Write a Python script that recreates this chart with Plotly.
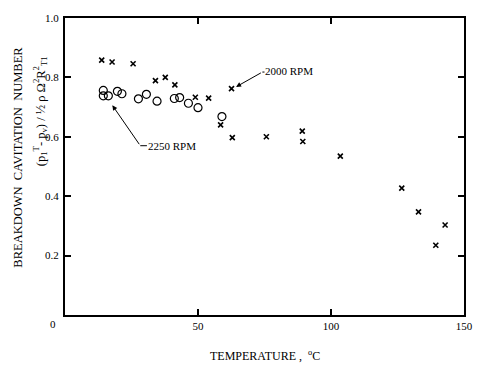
import plotly.graph_objects as go

# 2000 RPM data (x markers)
temp_2000 = [13.8, 17.7, 25.6, 34.0, 37.7, 41.3, 49.0, 54.0, 62.6, 58.5, 62.9, 75.7, 89.2, 89.4, 103.5, 126.6, 132.9, 142.9, 139.4]
sigma_2000 = [0.858, 0.852, 0.846, 0.789, 0.800, 0.775, 0.733, 0.730, 0.762, 0.640, 0.597, 0.600, 0.619, 0.584, 0.535, 0.427, 0.347, 0.303, 0.235]

# 2250 RPM data (open circles)
temp_2250 = [14.4, 14.4, 16.3, 19.7, 21.4, 27.6, 30.6, 34.6, 41.1, 43.1, 46.4, 50.0, 59.0]
sigma_2250 = [0.756, 0.738, 0.738, 0.753, 0.745, 0.728, 0.743, 0.720, 0.729, 0.732, 0.713, 0.698, 0.668]

x_ticks = [0, 50, 100, 150]
x_ticktext = ["", "50", "100", "150"]
y_ticks = [0.2, 0.4, 0.6, 0.8, 1.0]
y_ticktext = ["0.2", "0.4", "0.6", "0.8", "1.0"]

FONT = "Liberation Serif"

fig = go.Figure()
fig.add_trace(go.Scatter(
    x=temp_2000, y=sigma_2000, mode="markers", name="2000 RPM",
    marker=dict(symbol="x-thin-open", size=5, color="black", line=dict(width=1.6, color="black")),
))
fig.add_trace(go.Scatter(
    x=temp_2250, y=sigma_2250, mode="markers", name="2250 RPM",
    marker=dict(symbol="circle-open", size=8, color="black", line=dict(width=1.2, color="black")),
))

axis_common = dict(
    showgrid=False, zeroline=False, showline=True, linecolor="black", linewidth=2,
    mirror="ticks", ticks="inside", ticklen=6, tickwidth=1.5, tickcolor="black",
    tickfont=dict(family=FONT, size=11, color="black"),
)
fig.update_xaxes(range=[0, 150], tickvals=x_ticks, ticktext=x_ticktext, **axis_common)
fig.update_yaxes(range=[0, 1.0], tickvals=y_ticks, ticktext=y_ticktext, ticklabelstandoff=2, **axis_common)

annotations = [
    # x 0 label offset to the left
    dict(x=0, y=0, xref="x", yref="y", text="0", showarrow=False, xshift=-12, yshift=-9,
         yanchor="middle", font=dict(family=FONT, size=11, color="black")),
    # x title
    dict(x=0.5, y=-0.105, xref="paper", yref="paper", xanchor="center", yanchor="top",
         text="TEMPERATURE ,  <sup>o</sup>C", showarrow=False,
         font=dict(family=FONT, size=12, color="black")),
    # y title lines
    dict(x=-0.1176, y=0.53, xref="paper", yref="paper", xanchor="center", yanchor="middle",
         text="BREAKDOWN  CAVITATION  NUMBER", textangle=-90, showarrow=False,
         font=dict(family=FONT, size=12.5, color="black")),
    dict(x=-0.062, y=0.687, xref="paper", yref="paper", xanchor="center", yanchor="middle",
         text="(p<sub>1</sub><sup>T</sup>- p<sub>v</sub>) / ½ ρ Ω<sup>2</sup>R<sup>2</sup><sub>T1</sub>",
         textangle=-90, showarrow=False,
         font=dict(family=FONT, size=12.5, color="black")),
    # arrows
    dict(x=64.3, y=0.768, ax=74.2, ay=0.818, xref="x", yref="y", axref="x", ayref="y",
         text="", showarrow=True, arrowhead=2, arrowsize=1, arrowwidth=1, arrowcolor="black"),
    dict(x=17.8, y=0.706, ax=28.3, ay=0.570, xref="x", yref="y", axref="x", ayref="y",
         text="", showarrow=True, arrowhead=2, arrowsize=1, arrowwidth=1, arrowcolor="black"),
    # labels
    dict(x=74.4, y=0.822, xref="x", yref="y", xanchor="left", yanchor="middle", text="2000 RPM",
         showarrow=False, font=dict(family=FONT, size=11, color="black")),
    dict(x=30.6, y=0.570, xref="x", yref="y", xanchor="left", yanchor="middle", text="2250 RPM",
         showarrow=False, font=dict(family=FONT, size=11, color="black")),
]
# short horizontal leads for labels
fig.add_shape(type="line", x0=28.3, y0=0.570, x1=30.8, y1=0.570, xref="x", yref="y",
              line=dict(color="black", width=1))
fig.add_shape(type="line", x0=74.2, y0=0.818, x1=75.0, y1=0.818, xref="x", yref="y",
              line=dict(color="black", width=1))

fig.update_layout(
    width=485, height=365,
    margin=dict(l=65, r=12, t=13, b=50),
    paper_bgcolor="white", plot_bgcolor="white",
    showlegend=False,
    annotations=annotations,
    font=dict(family=FONT, color="black"),
)

fig.write_html("out.html", config={"displayModeBar": False},
               post_script="document.body.style.margin='0';document.body.style.overflow='hidden';")
